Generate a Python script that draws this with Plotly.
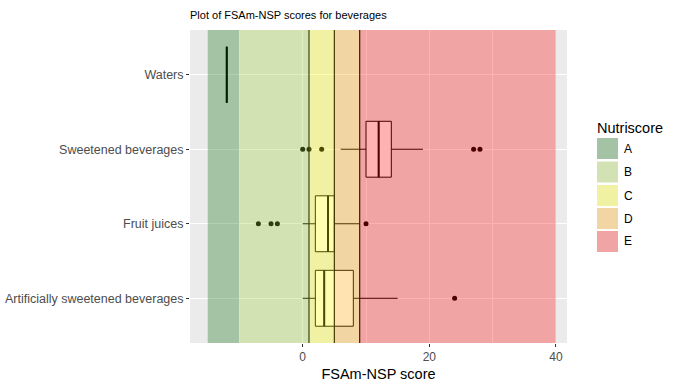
import plotly.graph_objects as go

# ---- data ----
categories = ["Artificially sweetened beverages", "Fruit juices", "Sweetened beverages", "Waters"]
q1 = [2, 2, 10, -12]
median = [3.4, 4, 12, -12]
q3 = [8, 5, 14, -12]
lowerfence = [0, 0, 6, -12]
upperfence = [15, 9, 19, -12]

outlier_cat = ["Artificially sweetened beverages",
               "Fruit juices", "Fruit juices", "Fruit juices", "Fruit juices",
               "Sweetened beverages", "Sweetened beverages", "Sweetened beverages",
               "Sweetened beverages", "Sweetened beverages"]
outlier_val = [24, -7, -5, -4, 10, 0, 1, 3, 27, 28]

grades = ["A", "B", "C", "D", "E"]
grade_lo = [-15, -10, 1, 5, 9]
grade_hi = [-10, 1, 5, 9, 40]
grade_rgb = [(0, 100, 0), (154, 205, 50), (255, 255, 0), (255, 165, 0), (255, 0, 0)]
cutoffs = [1, 5, 9]
alpha = 0.3

W, H = 679, 388
L, R, T, B = 190, 112, 30, 45
pw, ph = W - L - R, H - T - B

def px_x(px):
    return (px - L) / pw

def px_y(py):
    return 1 - (py - T) / ph

fig = go.Figure()

fig.add_trace(go.Box(
    y=categories, q1=q1, median=median, q3=q3,
    lowerfence=lowerfence, upperfence=upperfence,
    orientation="h", fillcolor="white",
    line=dict(color="black", width=1), whiskerwidth=0,
    width=0.75, boxpoints=False, showlegend=False, hoverinfo="skip",
))
# thicker median line (ggplot style): a degenerate box at the median
fig.add_trace(go.Box(
    y=categories, q1=median, median=median, q3=median,
    lowerfence=median, upperfence=median,
    orientation="h", fillcolor="rgba(0,0,0,0)",
    line=dict(color="black", width=2), whiskerwidth=0,
    width=0.75, boxpoints=False, showlegend=False, hoverinfo="skip",
))
fig.add_trace(go.Scatter(
    x=outlier_val, y=outlier_cat, mode="markers",
    marker=dict(color="black", size=5), showlegend=False,
))

shapes = []
for c in cutoffs:
    shapes.append(dict(type="line", xref="x", yref="y domain", x0=c, x1=c, y0=0, y1=1,
                       line=dict(color="black", width=1.2), layer="above"))
for lo, hi, rgb in zip(grade_lo, grade_hi, grade_rgb):
    shapes.append(dict(type="rect", xref="x", yref="y domain", x0=lo, x1=hi, y0=0, y1=1,
                       fillcolor=f"rgba({rgb[0]},{rgb[1]},{rgb[2]},{alpha})",
                       line=dict(width=0), layer="above"))

# manual legend
annotations = [dict(text="Nutriscore", xref="paper", yref="paper", x=px_x(595), y=px_y(128),
                    xanchor="left", yanchor="middle", showarrow=False,
                    font=dict(size=14.5, color="black", family="Liberation Sans, Arial"))]
key_y = [148.5, 172, 195.5, 218.5, 241.5]
for g, rgb, cy in zip(grades, grade_rgb, key_y):
    blend = tuple(round(235 * (1 - alpha) + v * alpha) for v in rgb)
    shapes.append(dict(type="rect", xref="paper", yref="paper",
                       x0=px_x(597), x1=px_x(618), y0=px_y(cy + 10.5), y1=px_y(cy - 10.5),
                       fillcolor=f"rgb{blend}", line=dict(width=0)))
    annotations.append(dict(text=g, xref="paper", yref="paper", x=px_x(622), y=px_y(cy),
                            xanchor="left", yanchor="middle", showarrow=False,
                            font=dict(size=12, color="black", family="Liberation Sans, Arial")))

fig.update_layout(
    width=W, height=H,
    margin=dict(l=L, r=R, t=T, b=B, autoexpand=False),
    paper_bgcolor="white", plot_bgcolor="#EBEBEB",
    font=dict(family="Liberation Sans, Arial", color="#4D4D4D", size=12),
    title=dict(text="Plot of FSAm-NSP scores for beverages", x=L / W, xanchor="left",
               y=1 - 15 / H, yanchor="middle", font=dict(size=11, color="black")),
    shapes=shapes, annotations=annotations, showlegend=False, boxmode="overlay",
    xaxis=dict(range=[-17.8, 41.75], tickvals=[0, 20, 40], showgrid=True, gridcolor="white",
               gridwidth=1, zeroline=False, ticks="outside", ticklen=3, tickcolor="#333333",
               automargin=False,
               minor=dict(tickvals=[-10, 10, 30], showgrid=True, gridcolor="white", gridwidth=0.5),
               title=dict(text="FSAm-NSP score", font=dict(size=14.5, color="black"), standoff=5),
               tickfont=dict(size=12, color="#4D4D4D")),
    yaxis=dict(categoryorder="array", categoryarray=categories, range=[-0.6, 3.6],
               showgrid=True, gridcolor="white", gridwidth=1, zeroline=False,
               ticks="outside", ticklen=3, tickcolor="#333333", automargin=False,
               tickfont=dict(size=12.5, color="#4D4D4D")),
)

fig.write_html("out.html", config={"displayModeBar": False},
               post_script="document.body.style.margin='0';document.body.style.padding='0';")
